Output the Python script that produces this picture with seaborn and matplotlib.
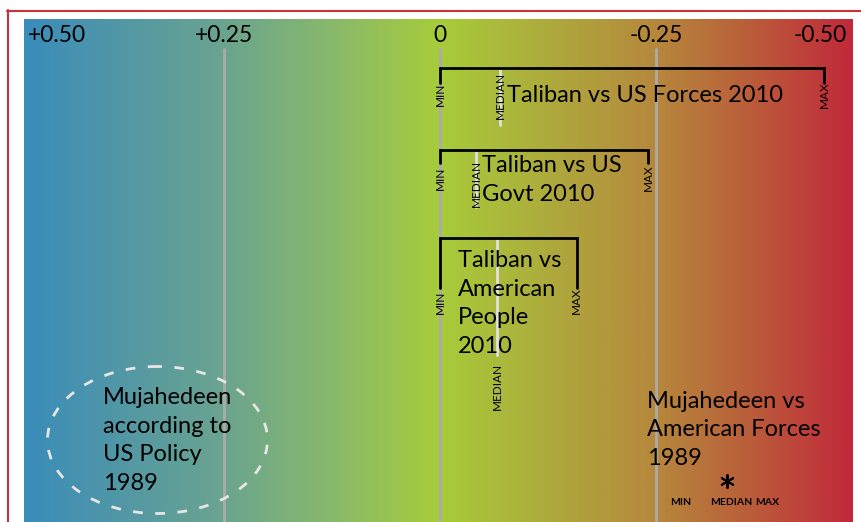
import numpy as np
import matplotlib
matplotlib.use("Agg")
import matplotlib.pyplot as plt
from matplotlib.colors import LinearSegmentedColormap
from matplotlib.patches import Ellipse
from matplotlib.lines import Line2D
import seaborn as sns

# scale: positive on the left, negative on the right
tick_values = [0.50, 0.25, 0.0, -0.25, -0.50]
tick_labels = ["+0.50", "+0.25", "0", "-0.25", "-0.50"]
grid_values = [0.25, 0.0, -0.25]

# 2010 ranges (min / median / max)
groups = ["Taliban vs US Forces 2010",
          "Taliban vs US\nGovt 2010",
          "Taliban vs\nAmerican\nPeople\n2010"]
mins = [0.0, 0.0, 0.0]
medians = [-0.070, -0.042, -0.066]
maxs = [-0.445, -0.241, -0.158]

# 1989 single estimates
forces_1989_label = "Mujahedeen vs\nAmerican Forces\n1989"
forces_1989_value = -0.332
policy_1989_label = "Mujahedeen\naccording to\nUS Policy\n1989"
policy_1989_value = 0.327

W, H = 861, 522
PX_PER_UNIT = 864
ZERO_PX = 440
LS = 1.45


def px(x):
    # pixel column -> scale value
    return (ZERO_PX - x) / PX_PER_UNIT


sns.set_theme(style="white")
plt.rcParams['font.family'] = ['Lato', 'DejaVu Sans']
plt.rcParams['text.color'] = 'black'

fig = plt.figure(figsize=(W / 100, H / 100), dpi=100)
fig.patch.set_facecolor("white")
ax = fig.add_axes([24 / W, 0, 829 / W, 503 / H])
x_left, x_right = px(24), px(853)
ax.set_xlim(x_left, x_right)
ax.set_ylim(H, 19)
ax.axis("off")

# background gradient
cmap = LinearSegmentedColormap.from_list("scale", [
    (0.0, "#3a8cba"), (0.24, "#6ba48f"), (0.37, "#88b96c"),
    (0.502, "#a7cc3a"), (0.62, "#adae3c"), (0.763, "#b6883c"),
    (0.88, "#ba5c3a"), (1.0, "#c1293a")])
ax.imshow(np.linspace(0, 1, 600)[None, :], extent=[x_left, x_right, H, 19],
          aspect="auto", cmap=cmap, zorder=0)

# frame
fig.add_artist(Line2D([7.5 / W, 7.5 / W], [0, 1 - 10 / H], color="#c8323c", lw=1.5))
fig.add_artist(Line2D([7 / W, 1], [1 - 10.5 / H, 1 - 10.5 / H], color="#c8323c", lw=1.5))

# grid lines and scale labels
for g in grid_values:
    ax.plot([g, g], [49, H], color="#ababab", lw=2, zorder=1)
for v, lab in zip(tick_values, tick_labels):
    if v == tick_values[0]:
        ax.text(px(28), 35, lab, ha="left", va="center", fontsize=16.5)
    elif v == tick_values[-1]:
        ax.text(px(847), 35, lab, ha="right", va="center", fontsize=16.5)
    else:
        ax.text(v, 35, lab, ha="center", va="center", fontsize=16.5)

# 2010 brackets
top_y = [68, 150, 238]
leg_y = [83, 163, 288]
min_lab_y = [94, 178, 302]
max_lab_y = [95, 178, 301]
med_y = [(70, 125), (152, 207), (240, 355)]
med_lab_y = [95, 183, 386]
text_x = [507, 482, 458]
text_last_baseline = [102, 201, 353]

for i, name in enumerate(groups):
    lo, md, hi = mins[i], medians[i], maxs[i]
    ax.plot([lo, lo, hi, hi], [leg_y[i], top_y[i], top_y[i], leg_y[i]],
            color="black", lw=2, solid_joinstyle="miter", zorder=3)
    ax.plot([md, md], med_y[i], color="#e2e2e2", lw=2, zorder=2)
    ax.text(lo, min_lab_y[i], "MIN", rotation=90, ha="center", va="center", fontsize=8.5)
    ax.text(hi, max_lab_y[i], "MAX", rotation=90, ha="center", va="center", fontsize=8.5)
    ax.text(md, med_lab_y[i], "MEDIAN", rotation=90, ha="center", va="center", fontsize=8.5)
    ax.text(px(text_x[i]), text_last_baseline[i], name, ha="left", va="baseline",
            fontsize=17, linespacing=LS)

# 1989: forces point estimate
sns.scatterplot(x=[forces_1989_value], y=[481], marker=(6, 2, 0), s=90,
                color="black", linewidth=1.4, ax=ax, zorder=4, legend=False)
ax.text(px(647), 465, forces_1989_label, ha="left", va="baseline",
        fontsize=17, linespacing=LS)
for lab, lx in zip(["MIN", "MEDIAN", "MAX"], [681, 731, 767]):
    ax.text(px(lx), 503, lab, ha="center", va="center", fontsize=7.5, weight="bold")

# 1989: policy, dashed ellipse
ax.add_patch(Ellipse((policy_1989_value, 440), 220 / PX_PER_UNIT, 147,
                     fill=False, ec="#e6e6e6", lw=2, ls=(0, (3.5, 4.5)), zorder=2))
ax.text(px(103), 490, policy_1989_label, ha="left", va="baseline",
        fontsize=17, linespacing=LS)

fig.savefig("out.png", dpi=100)
